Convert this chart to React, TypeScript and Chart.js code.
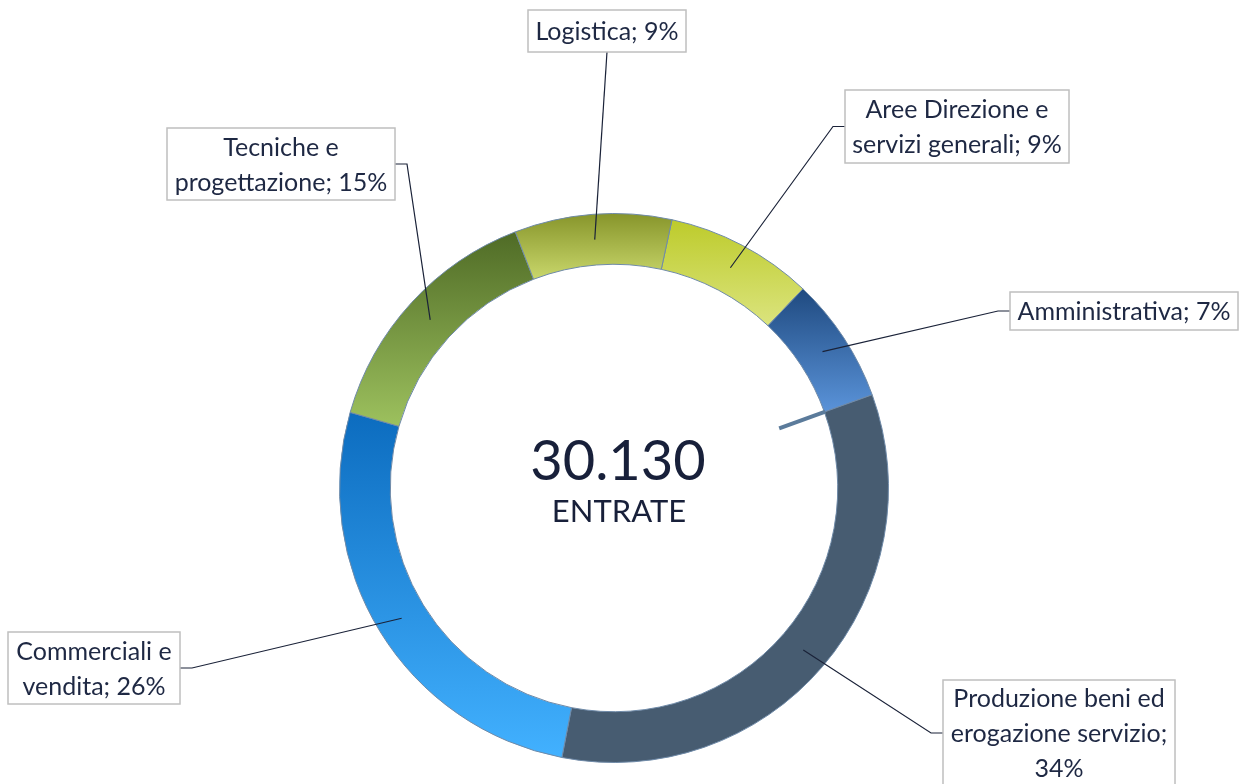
import React, { useEffect, useRef } from "react";
import { Chart, registerables } from "chart.js";

Chart.register(...registerables);

// ---- data ----
const CATEGORIES = [
  "Aree Direzione e servizi generali",
  "Amministrativa",
  "Produzione beni ed erogazione servizio",
  "Commerciali e vendita",
  "Tecniche e progettazione",
  "Logistica",
];
const VALUES = [2620, 2230, 10110, 7955, 4430, 2785];
const TOTAL_LABEL = "30.130";
const CENTER_CAPTION = "ENTRATE";

// ---- styles ----
const GRADIENT_TOP = ["#bdcb2b", "#1f4a80", "#475c71", "#0c6cbf", "#4f6b26", "#87952b"];
const GRADIENT_BOTTOM = ["#dbe47e", "#5a93d9", "#475c71", "#42b1ff", "#9dc15e", "#c9d76b"];
const FONT = "Lato, 'Open Sans', sans-serif";
const TEXT_COLOR = "#1e2843";
const LEADER_COLOR = "#1a2238";

type Side = "left" | "right" | "top";
const LABEL_LAYOUT: { left: number; top: number; width: number; height: number; side: Side; breaks: number[] }[] = [
  { left: 845, top: 90, width: 224, height: 73, side: "right", breaks: [3] },
  { left: 1010, top: 292, width: 228, height: 38, side: "right", breaks: [] },
  { left: 943, top: 680, width: 232, height: 106, side: "right", breaks: [3, 5] },
  { left: 8, top: 632, width: 172, height: 72, side: "left", breaks: [2] },
  { left: 167, top: 128, width: 228, height: 72, side: "left", breaks: [2] },
  { left: 528, top: 10, width: 158, height: 42, side: "top", breaks: [] },
];
const LINE_HEIGHT = 35;

const gradientPlugin = {
  id: "segGradients",
  afterUpdate(chart: any) {
    const meta = chart.getDatasetMeta(0);
    const ctx = chart.ctx as CanvasRenderingContext2D;
    meta.data.forEach((el: any, i: number) => {
      const { y, startAngle, endAngle, innerRadius, outerRadius } = el;
      let minY = Infinity;
      let maxY = -Infinity;
      for (let k = 0; k <= 60; k++) {
        const a = startAngle + ((endAngle - startAngle) * k) / 60;
        for (const r of [innerRadius, outerRadius]) {
          const py = y + r * Math.sin(a);
          minY = Math.min(minY, py);
          maxY = Math.max(maxY, py);
        }
      }
      const g = ctx.createLinearGradient(0, minY, 0, maxY);
      g.addColorStop(0, GRADIENT_TOP[i]);
      g.addColorStop(1, GRADIENT_BOTTOM[i]);
      el.options = { ...el.options, backgroundColor: g };
    });
  },
};

const annotationPlugin = {
  id: "annotations",
  afterDatasetsDraw(chart: any) {
    const ctx = chart.ctx as CanvasRenderingContext2D;
    const meta = chart.getDatasetMeta(0);
    const arcs = meta.data as any[];
    const total = VALUES.reduce((a, b) => a + b, 0);

    // small radial stub at the Amministrativa / Produzione boundary
    const b = arcs[1];
    ctx.save();
    ctx.strokeStyle = "#5b7b9b";
    ctx.lineWidth = 4;
    ctx.beginPath();
    ctx.moveTo(b.x + Math.cos(b.endAngle) * b.innerRadius * 0.785, b.y + Math.sin(b.endAngle) * b.innerRadius * 0.785);
    ctx.lineTo(b.x + Math.cos(b.endAngle) * (b.innerRadius + 1), b.y + Math.sin(b.endAngle) * (b.innerRadius + 1));
    ctx.stroke();
    ctx.restore();

    // leader lines
    ctx.save();
    ctx.strokeStyle = LEADER_COLOR;
    ctx.lineWidth = 1.2;
    arcs.forEach((el, i) => {
      const L = LABEL_LAYOUT[i];
      const mid = (el.startAngle + el.endAngle) / 2;
      const r = (el.innerRadius + el.outerRadius) / 2;
      const px = el.x + Math.cos(mid) * r;
      const py = el.y + Math.sin(mid) * r;
      const cy = L.top + L.height / 2;
      ctx.beginPath();
      ctx.moveTo(px, py);
      if (L.side === "right") {
        ctx.lineTo(L.left - 12, cy);
        ctx.lineTo(L.left, cy);
      } else if (L.side === "left") {
        ctx.lineTo(L.left + L.width + 12, cy);
        ctx.lineTo(L.left + L.width, cy);
      } else {
        ctx.lineTo(L.left + L.width / 2, L.top + L.height);
      }
      ctx.stroke();
    });
    ctx.restore();

    // label boxes
    ctx.save();
    ctx.font = `25px ${FONT}`;
    ctx.textAlign = "center";
    ctx.textBaseline = "middle";
    CATEGORIES.forEach((name, i) => {
      const L = LABEL_LAYOUT[i];
      const pct = Math.round((VALUES[i] / total) * 100);
      const words = `${name}; ${pct}%`.split(" ");
      const lines: string[] = [];
      let start = 0;
      for (const br of L.breaks) {
        lines.push(words.slice(start, br).join(" "));
        start = br;
      }
      lines.push(words.slice(start).join(" "));
      ctx.fillStyle = "#ffffff";
      ctx.fillRect(L.left, L.top, L.width, L.height);
      ctx.strokeStyle = "#bfbfbf";
      ctx.lineWidth = 1.5;
      ctx.strokeRect(L.left, L.top, L.width, L.height);
      ctx.fillStyle = TEXT_COLOR;
      const first = L.top + (L.height - (lines.length - 1) * LINE_HEIGHT) / 2;
      lines.forEach((ln, k) => ctx.fillText(ln, L.left + L.width / 2, first + k * LINE_HEIGHT + 1));
    });
    ctx.restore();

    // center text
    const cx = (chart.chartArea.left + chart.chartArea.right) / 2;
    const cy = (chart.chartArea.top + chart.chartArea.bottom) / 2;
    ctx.save();
    ctx.fillStyle = "#18203a";
    ctx.textAlign = "center";
    ctx.textBaseline = "alphabetic";
    ctx.font = `56px ${FONT}`;
    ctx.fillText(TOTAL_LABEL, cx + 4, cy - 8);
    ctx.font = `31px ${FONT}`;
    ctx.fillText(CENTER_CAPTION, cx + 5, cy + 34);
    ctx.restore();
  },
};

export default function App() {
  const ref = useRef<HTMLCanvasElement>(null);
  useEffect(() => {
    if (!ref.current) return;
    const chart = new Chart(ref.current, {
      type: "doughnut",
      data: {
        labels: CATEGORIES,
        datasets: [
          {
            data: VALUES,
            backgroundColor: GRADIENT_TOP,
            borderColor: "#6f8aa8",
            borderWidth: 1,
          },
        ],
      },
      options: {
        responsive: false,
        animation: false,
        events: [],
        rotation: 12.2,
        cutout: "81.5%",
        layout: { padding: { left: 339, right: 356, top: 213, bottom: 21 } },
        plugins: { legend: { display: false }, tooltip: { enabled: false } },
      },
      plugins: [gradientPlugin, annotationPlugin],
    });
    return () => chart.destroy();
  }, []);
  return (
    <div style={{ position: "fixed", left: 0, top: 0, width: 1245, height: 784, background: "#ffffff" }}>
      <canvas ref={ref} width={1245} height={784} style={{ width: 1245, height: 784 }} />
    </div>
  );
}
